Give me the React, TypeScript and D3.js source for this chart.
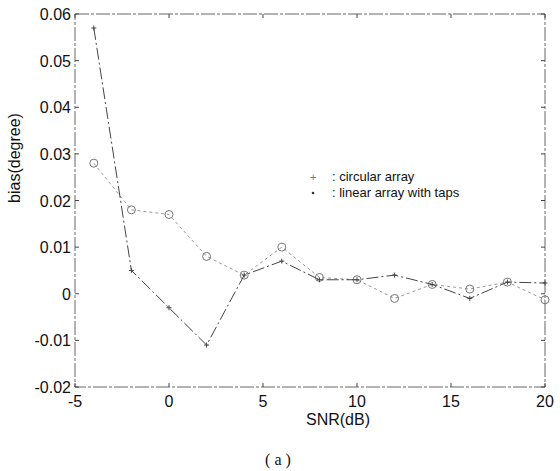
import React from "react";
import * as d3 from "d3";

const snr = [-4, -2, 0, 2, 4, 6, 8, 10, 12, 14, 16, 18, 20];
const circularArray = [0.028, 0.018, 0.017, 0.008, 0.004, 0.010, 0.0035, 0.003, -0.001, 0.002, 0.001, 0.0025, -0.0013];
const linearArrayTaps = [0.057, 0.005, -0.003, -0.011, 0.004, 0.007, 0.003, 0.003, 0.004, 0.002, -0.001, 0.0025, 0.0023];
const xTicks = [-5, 0, 5, 10, 15, 20];
const yTicks = [-0.02, -0.01, 0, 0.01, 0.02, 0.03, 0.04, 0.05, 0.06];
const legendLabels = ["circular array", "linear array with taps"];

export default function App() {
  const W = 560, H = 471;
  const left = 75, right = 545, top = 14, bottom = 387;
  const x = d3.scaleLinear().domain([-5, 20]).range([left, right]);
  const y = d3.scaleLinear().domain([-0.02, 0.06]).range([bottom, top]);
  const line = d3.line<number>().x((_, i) => x(snr[i])).y((v) => y(v));
  const font = "Liberation Sans, Arial, sans-serif";
  const fmtY = (t: number) => (t === 0 ? "0" : t.toFixed(2));
  return (
    <svg width={W} height={H} style={{ position: "absolute", left: 0, top: 0, background: "#fff" }}>
      <rect x={left} y={top} width={right - left} height={bottom - top} fill="none" stroke="#666" strokeWidth={1} strokeDasharray="14,2,3,2" />
      {xTicks.map((t) => (
        <g key={"x" + t}>
          <line x1={x(t)} x2={x(t)} y1={bottom} y2={bottom - 4} stroke="#444" />
          <line x1={x(t)} x2={x(t)} y1={top} y2={top + 4} stroke="#444" />
          <text x={x(t)} y={bottom + 20} fontSize={16} fontFamily={font} textAnchor="middle" fill="#111">{t}</text>
        </g>
      ))}
      {yTicks.map((t) => (
        <g key={"y" + t}>
          <line x1={left} x2={left + 4} y1={y(t)} y2={y(t)} stroke="#444" />
          <line x1={right} x2={right - 4} y1={y(t)} y2={y(t)} stroke="#444" />
          <text x={left - 4} y={y(t) + 6} fontSize={16} fontFamily={font} textAnchor="end" fill="#111">{fmtY(t)}</text>
        </g>
      ))}
      <text x={338} y={425} fontSize={16} fontFamily={font} textAnchor="middle" fill="#111">SNR(dB)</text>
      <text transform={`translate(20,158) rotate(-90)`} fontSize={16} fontFamily={font} textAnchor="middle" fill="#111">bias(degree)</text>
      <text x={278} y={465} fontSize={16} fontFamily="Liberation Serif, serif" textAnchor="middle" fill="#111">( a )</text>

      <path d={line(circularArray) || ""} fill="none" stroke="#999" strokeWidth={1} strokeDasharray="3,3" />
      {circularArray.map((v, i) => (
        <circle key={"c" + i} cx={x(snr[i])} cy={y(v)} r={4} fill="none" stroke="#777" strokeWidth={1} />
      ))}
      <path d={line(linearArrayTaps) || ""} fill="none" stroke="#444" strokeWidth={1} strokeDasharray="12,3,2,3" />
      {linearArrayTaps.map((v, i) => (
        <g key={"p" + i}>
          <line x1={x(snr[i]) - 2.5} x2={x(snr[i]) + 2.5} y1={y(v)} y2={y(v)} stroke="#444" />
          <line x1={x(snr[i])} x2={x(snr[i])} y1={y(v) - 2.5} y2={y(v) + 2.5} stroke="#444" />
        </g>
      ))}

      <text x={310} y={181} fontSize={11} fontFamily={font} fill="#777">+</text>
      <text x={332} y={181} fontSize={13} fontFamily={font} fill="#111">: {legendLabels[0]}</text>
      <circle cx={313} cy={193} r={1.3} fill="#333" />
      <text x={332} y={197} fontSize={13} fontFamily={font} fill="#111">: {legendLabels[1]}</text>
    </svg>
  );
}
